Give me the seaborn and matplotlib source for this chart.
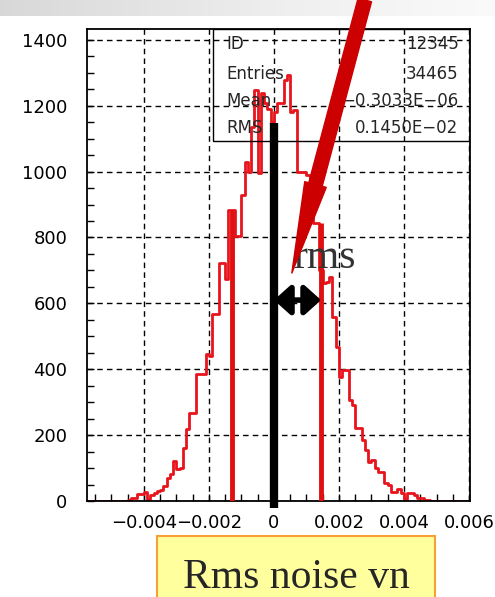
import numpy as np
import pandas as pd
import matplotlib
matplotlib.use("Agg")
import matplotlib.pyplot as plt
import seaborn as sns
from matplotlib.patches import Rectangle, FancyArrowPatch

# ---------------------------------------------------------
# Data
# ---------------------------------------------------------
bin_start = -0.0058
bin_width = 0.0001
counts = [
    0, 0, 0, 0, 0, 0, 0, 0, 0, 0, 0, 1, 1, 2,
    8, 8, 20, 22, 27, 5, 18, 24, 30, 32, 45, 70, 81, 121, 96, 100,
    162, 218, 268, 268, 385, 385, 385, 446, 440, 568, 568, 722, 722, 674,
    884, 884, 805, 805, 929, 1030, 1000, 1136, 1248, 996, 1239, 1209,
    1190, 1150, 1180, 1209, 1209, 1279, 1294, 1180, 1187, 1000, 1000,
    1000, 990, 920, 844, 844, 700, 662, 665, 680, 560, 468, 375, 398,
    398, 307, 292, 222, 222, 185, 155, 118, 124, 100, 88, 88, 55, 49,
    27, 27, 36, 24, 5, 24, 24, 18, 9, 9, 3, 2,
    0, 0, 0, 0, 0, 0, 0, 0, 0, 0, 0, 0,
]

x_ticks = [-0.004, -0.002, 0, 0.002, 0.004, 0.006]
x_tick_labels = ["\u22120.004", "\u22120.002", "0", "0.002", "0.004", "0.006"]
y_ticks = [0, 200, 400, 600, 800, 1000, 1200, 1400]

stats_names = ["ID", "Entries", "Mean", "RMS"]
stats_values = ["12345", "34465", "\u22120.3033E\u221206", "0.1450E\u221202"]

mean_x = 0.0
mean_height = 1148
rms_x = [-0.00128, 0.00145]
rms_heights = [884, 844]
arrow_level = 610

edges = [bin_start + bin_width * i for i in range(len(counts) + 1)]
centers = [(a + b) / 2 for a, b in zip(edges[:-1], edges[1:])]
hist_df = pd.DataFrame({"x": centers, "w": counts})

# ---------------------------------------------------------
# Figure
# ---------------------------------------------------------
sns.set_style("white")
plt.rcParams["font.family"] = ["DejaVu Sans"]

fig = plt.figure(figsize=(4.95, 5.97), dpi=100)

# grey band at the very top
band = fig.add_axes([0, 1 - 16 / 597, 1, 16 / 597], zorder=0)
grad = np.linspace(0, 1, 256).reshape(1, -1)
band.imshow(grad, aspect="auto", cmap="Greys_r", vmin=-3.5, vmax=1.2)
band.axis("off")

ax = fig.add_axes([87 / 495, 1 - 501 / 597, 383 / 495, 472 / 597], zorder=2)

sns.histplot(data=hist_df, x="x", weights="w", bins=edges, element="step",
             fill=False, color="#e8141c", linewidth=2.0, ax=ax)

ax.set_xlim(-0.00575, 0.00603)
ax.set_ylim(0, 1433)
ax.set_xticks(x_ticks)
ax.set_xticklabels(x_tick_labels)
ax.set_yticks(y_ticks)
ax.set_xticks(np.arange(-0.0055, 0.0061, 0.0005), minor=True)
ax.set_yticks(np.arange(0, 1431, 50), minor=True)
ax.tick_params(axis="both", which="both", direction="in", length=5,
               width=1, labelsize=13, colors="black",
               left=True, bottom=True, top=False, right=False)
ax.tick_params(axis="x", pad=9)
ax.tick_params(axis="y", pad=14)
ax.set_xlabel("")
ax.set_ylabel("")
for s in ax.spines.values():
    s.set_visible(True)
    s.set_color("black")
    s.set_linewidth(1.3)
ax.grid(True, which="major", linestyle=(0, (4, 3)), color="black",
        linewidth=1.0)
ax.set_axisbelow(True)

# stats box
ax.add_patch(Rectangle((0.329, 0.763), 0.671, 0.237, transform=ax.transAxes,
                       fill=False, edgecolor="black", linewidth=1.0,
                       zorder=3))
rows_y = [0.968, 0.905, 0.847, 0.790]
for name, val, yy in zip(stats_names, stats_values, rows_y):
    ax.text(0.365, yy, name, transform=ax.transAxes, fontsize=12,
            va="center", ha="left", zorder=4)
    ax.text(0.97, yy, val, transform=ax.transAxes, fontsize=12,
            va="center", ha="right", zorder=4)

# mean bar and rms markers
ax.vlines(mean_x, -21, mean_height, color="black", linewidth=6,
          clip_on=False, zorder=5)
ax.vlines(rms_x, 0, rms_heights, color="#e01010", linewidth=3.5, zorder=5)

# double arrow
ax.add_patch(FancyArrowPatch((mean_x, arrow_level), (rms_x[1], arrow_level),
                             arrowstyle="<|-|>,head_length=0.5,head_width=0.45",
                             mutation_scale=20, linewidth=4, color="black",
                             shrinkA=0, shrinkB=0, zorder=6))
ax.text(0.00058, 708, "rms", fontsize=30, family="Liberation Serif",
        ha="left", va="baseline", color="#333333", zorder=6)

# red pointer from the top
ax.annotate("", xy=(0.00055, 692), xycoords="data",
            xytext=(0.737, 1.0), textcoords="figure fraction",
            arrowprops=dict(arrowstyle="simple,head_length=3.3,head_width=0.8,tail_width=0.5",
                            mutation_scale=20, color="#cc0000",
                            shrinkA=0, shrinkB=0),
            zorder=7, annotation_clip=False)

# yellow label box
fig.patches.append(Rectangle((157 / 495, -0.01), 278 / 495, 0.01 + 61 / 597,
                             transform=fig.transFigure, facecolor="#ffff9e",
                             edgecolor="#f7a035", linewidth=1.5))
fig.text(0.599, 9 / 597, "Rms noise vn", fontsize=30,
         family="Liberation Serif", ha="center", va="baseline")

fig.savefig("out.png", dpi=100)
